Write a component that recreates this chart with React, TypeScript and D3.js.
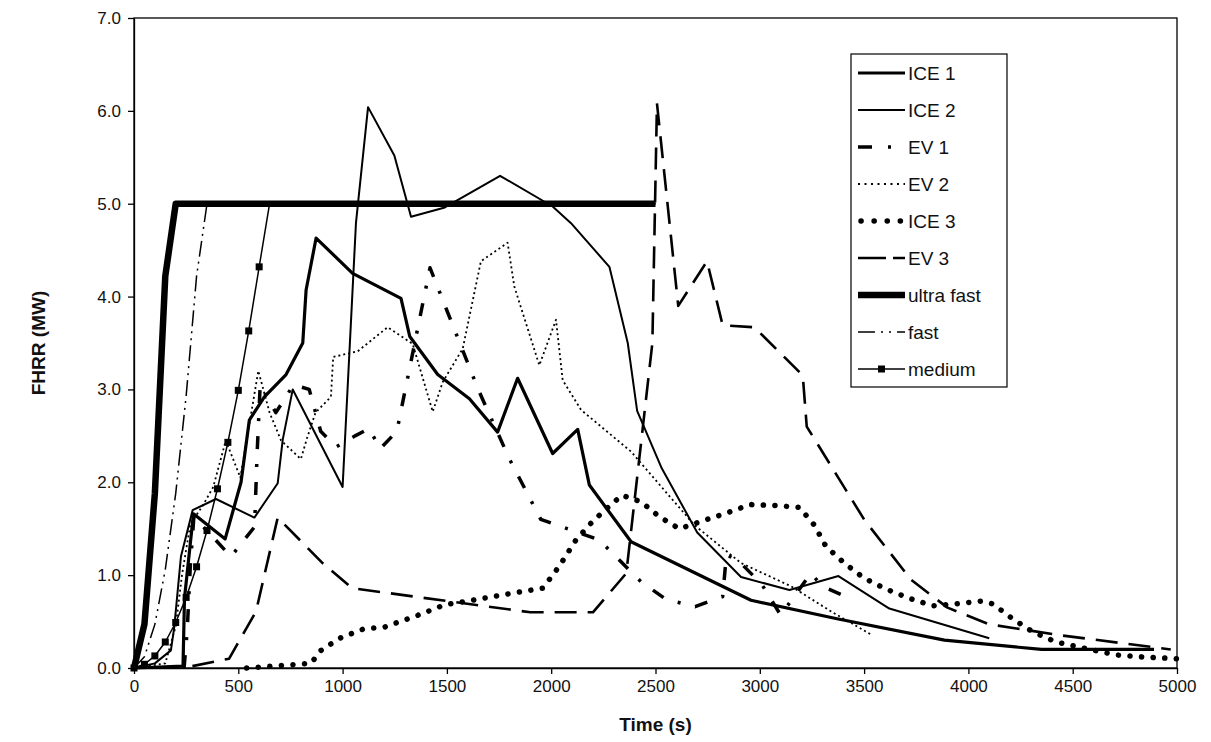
import React, { useEffect, useRef } from 'react';
import * as d3 from 'd3';

type Pt = [number, number];

// Axis ticks
const timeTicks = [0, 500, 1000, 1500, 2000, 2500, 3000, 3500, 4000, 4500, 5000];
const hrrTicks = [0, 1, 2, 3, 4, 5, 6, 7];

// Heat release rate curves: [time (s), FHRR (MW)]
const ice1: Pt[] = [
  [0, 0], [235, 0.02], [242, 0.75], [285, 1.66], [437, 1.39], [513, 2.0], [553, 2.67], [625, 2.92],
  [729, 3.16], [809, 3.5], [825, 4.07], [873, 4.63], [1048, 4.25], [1280, 3.98], [1322, 3.57],
  [1456, 3.16], [1608, 2.9], [1743, 2.54], [1839, 3.12], [2007, 2.31], [2127, 2.57], [2183, 1.97],
  [2383, 1.36], [2958, 0.73], [3370, 0.53], [3885, 0.3], [4350, 0.2], [4890, 0.2],
];
const ice2: Pt[] = [
  [0, 0], [100, 0.05], [177, 0.19], [193, 0.44], [225, 1.2], [281, 1.7], [393, 1.82], [577, 1.62],
  [689, 1.99], [713, 2.46], [761, 3.0], [1000, 1.95], [1064, 4.79], [1122, 6.04], [1248, 5.52],
  [1328, 4.86], [1490, 4.96], [1755, 5.3], [2007, 4.97], [2095, 4.79], [2279, 4.32], [2367, 3.5],
  [2412, 2.77], [2530, 2.15], [2700, 1.46], [2910, 0.98], [3142, 0.84], [3377, 0.99], [3621, 0.64],
  [4100, 0.32],
];
const ev1: Pt[] = [
  [240, 0], [255, 0.4], [270, 1.1], [287, 1.63], [465, 1.2], [578, 1.52], [590, 2.3], [605, 3.05],
  [680, 2.75], [765, 3.05], [840, 3.0], [895, 2.55], [968, 2.38], [1060, 2.5], [1127, 2.58],
  [1180, 2.36], [1260, 2.55], [1419, 4.31], [1500, 3.85], [1650, 3.0], [1800, 2.25], [1950, 1.6],
  [2230, 1.38], [2430, 0.93], [2550, 0.74], [2690, 0.66], [2822, 0.77], [2840, 1.22], [2900, 1.15],
  [3010, 0.9], [3100, 0.57], [3245, 1.02], [3300, 0.88], [3440, 0.74],
];
const ev2: Pt[] = [
  [0, 0], [150, 0.05], [200, 0.45], [230, 1.0], [270, 1.55], [330, 1.75], [380, 1.95], [440, 2.45],
  [510, 2.05], [596, 3.2], [650, 2.75], [705, 2.45], [800, 2.25], [830, 2.48], [870, 2.75],
  [944, 2.92], [955, 3.35], [1072, 3.41], [1216, 3.67], [1336, 3.49], [1432, 2.76], [1480, 3.08],
  [1576, 3.44], [1663, 4.38], [1791, 4.58], [1823, 4.11], [1943, 3.26], [2023, 3.75], [2055, 3.1],
  [2143, 2.78], [2383, 2.33], [2686, 1.54], [2910, 1.13], [3150, 0.88], [3341, 0.61], [3533, 0.36],
];
const ice3: Pt[] = [
  [540, 0], [850, 0.05], [890, 0.18], [985, 0.32], [1100, 0.42], [1200, 0.44], [1376, 0.58],
  [1488, 0.68], [1650, 0.74], [1800, 0.8], [1960, 0.86], [2040, 1.1], [2119, 1.38], [2199, 1.58],
  [2287, 1.76], [2340, 1.86], [2431, 1.79], [2518, 1.63], [2614, 1.5], [2734, 1.59], [2841, 1.67],
  [2955, 1.76], [3073, 1.75], [3190, 1.73], [3261, 1.54], [3317, 1.31], [3405, 1.13], [3498, 0.97],
  [3605, 0.85], [3717, 0.75], [3829, 0.67], [3941, 0.69], [4061, 0.72], [4117, 0.69], [4212, 0.53],
  [4308, 0.39], [4420, 0.28], [4540, 0.22], [4711, 0.14], [4828, 0.12], [5000, 0.1],
];
const ev3: Pt[] = [
  [280, 0.02], [456, 0.1], [585, 0.61], [689, 1.62], [904, 1.13], [1045, 0.86], [1900, 0.6],
  [2200, 0.6], [2360, 1.02], [2485, 3.5], [2507, 6.08], [2609, 3.9], [2747, 4.38], [2822, 3.69],
  [2974, 3.67], [3206, 3.15], [3225, 2.6], [3500, 1.6], [3725, 0.95], [3900, 0.65], [4100, 0.47],
  [4450, 0.35], [4970, 0.2],
];
const ultraFast: Pt[] = [[0, 0], [50, 0.47], [100, 1.88], [150, 4.22], [200, 5.0], [2500, 5.0]];
const fast: Pt[] = [
  [0, 0], [50, 0.12], [100, 0.47], [150, 1.06], [200, 1.88], [250, 2.93], [300, 4.22], [350, 5.0],
  [2500, 5.0],
];
const medium: Pt[] = [
  [0, 0], [50, 0.04], [100, 0.13], [150, 0.28], [200, 0.49], [250, 0.76], [300, 1.09], [350, 1.48],
  [400, 1.93], [450, 2.43], [500, 2.99], [550, 3.63], [600, 4.32], [650, 5.0], [2500, 5.0],
];
const mediumMarkers = medium.slice(0, 13);

const seriesNames = ['ICE 1', 'ICE 2', 'EV 1', 'EV 2', 'ICE 3', 'EV 3', 'ultra fast', 'fast', 'medium'];
const seriesData = [ice1, ice2, ev1, ev2, ice3, ev3, ultraFast, fast, medium];

type Style = { width: number; dash?: string; cap?: string; legendDash?: string };
const styles: Style[] = [
  { width: 3.2 },
  { width: 2 },
  { width: 3.5, dash: '13,15,3,15', legendDash: '14,16,3,30' },
  { width: 1.8, dash: '2,3', legendDash: '2,4.5' },
  { width: 5.5, dash: '0.1,11.5', cap: 'round', legendDash: '0.1,13' },
  { width: 2.6, dash: '22,11', legendDash: '28,7' },
  { width: 6.5 },
  { width: 1.5, dash: '16,5,2,5,2,5', legendDash: '17,6,2,6,2,6' },
  { width: 1.5 },
];

const FONT = "'Liberation Sans', Arial, sans-serif";

export default function App() {
  const ref = useRef<SVGSVGElement>(null);

  useEffect(() => {
    const svg = d3.select(ref.current);
    svg.selectAll('*').remove();

    const x = d3.scaleLinear().domain([0, 5000]).range([134, 1177]);
    const y = d3.scaleLinear().domain([0, 7]).range([668, 18]);

    // Plot frame
    svg.append('rect')
      .attr('x', x(0)).attr('y', y(7))
      .attr('width', x(5000) - x(0)).attr('height', y(0) - y(7))
      .attr('fill', 'none').attr('stroke', '#000').attr('stroke-width', 1.3);

    // Axes
    const xAxis = svg.append('g')
      .attr('transform', `translate(0,${y(0)})`)
      .call(d3.axisBottom(x).tickValues(timeTicks).tickSize(6).tickSizeOuter(0).tickFormat(d3.format('d')));
    const yAxis = svg.append('g')
      .attr('transform', `translate(${x(0)},0)`)
      .call(d3.axisLeft(y).tickValues(hrrTicks).tickSize(6).tickSizeOuter(0).tickFormat(d3.format('.1f')));
    [xAxis, yAxis].forEach((g) => {
      g.select('.domain').attr('stroke', '#000').attr('stroke-width', 1.3);
      g.selectAll('.tick line').attr('stroke', '#000').attr('stroke-width', 1.3);
      g.selectAll('.tick text').attr('font-family', FONT).attr('font-size', 17).attr('fill', '#111');
    });
    xAxis.selectAll('.tick text').attr('dy', '0.9em');
    yAxis.selectAll('.tick text').attr('x', -13);

    // Axis titles
    svg.append('text')
      .attr('x', (x(0) + x(5000)) / 2).attr('y', 731)
      .attr('text-anchor', 'middle').attr('font-family', FONT)
      .attr('font-weight', 'bold').attr('font-size', 19).attr('fill', '#111')
      .text('Time (s)');
    svg.append('text')
      .attr('transform', `translate(45,${(y(0) + y(7)) / 2}) rotate(-90)`)
      .attr('text-anchor', 'middle').attr('font-family', FONT)
      .attr('font-weight', 'bold').attr('font-size', 19).attr('fill', '#111')
      .text('FHRR (MW)');

    // Series
    const line = d3.line<Pt>().x((d) => x(d[0])).y((d) => y(d[1]));
    seriesData.forEach((data, i) => {
      const s = styles[i];
      svg.append('path')
        .attr('d', line(data))
        .attr('fill', 'none')
        .attr('stroke', '#000')
        .attr('stroke-width', s.width)
        .attr('stroke-dasharray', s.dash ?? null)
        .attr('stroke-linecap', s.cap ?? 'butt')
        .attr('stroke-linejoin', 'round');
    });
    svg.append('g').selectAll('rect')
      .data(mediumMarkers)
      .join('rect')
      .attr('x', (d) => x(d[0]) - 3.5).attr('y', (d) => y(d[1]) - 3.5)
      .attr('width', 7).attr('height', 7).attr('fill', '#000');

    // Legend
    const lg = svg.append('g');
    lg.append('rect')
      .attr('x', 851).attr('y', 54).attr('width', 156).attr('height', 333)
      .attr('fill', '#fff').attr('stroke', '#000').attr('stroke-width', 1.2);
    seriesNames.forEach((name, i) => {
      const cy = 73 + i * 37;
      const s = styles[i];
      lg.append('line')
        .attr('x1', s.cap === 'round' ? 861 : 858).attr('x2', 905).attr('y1', cy).attr('y2', cy)
        .attr('stroke', '#000').attr('stroke-width', s.width)
        .attr('stroke-dasharray', s.legendDash ?? null)
        .attr('stroke-linecap', s.cap ?? 'butt');
      if (name === 'medium') {
        lg.append('rect').attr('x', 878).attr('y', cy - 3.5).attr('width', 7).attr('height', 7).attr('fill', '#000');
      }
      lg.append('text')
        .attr('x', 908).attr('y', cy).attr('dy', '0.35em')
        .attr('font-family', FONT).attr('font-size', 19).attr('fill', '#111')
        .text(name);
    });
  }, []);

  return (
    <svg
      ref={ref}
      width={1211}
      height={742}
      style={{ position: 'absolute', left: 0, top: 0, background: '#fff' }}
    />
  );
}
